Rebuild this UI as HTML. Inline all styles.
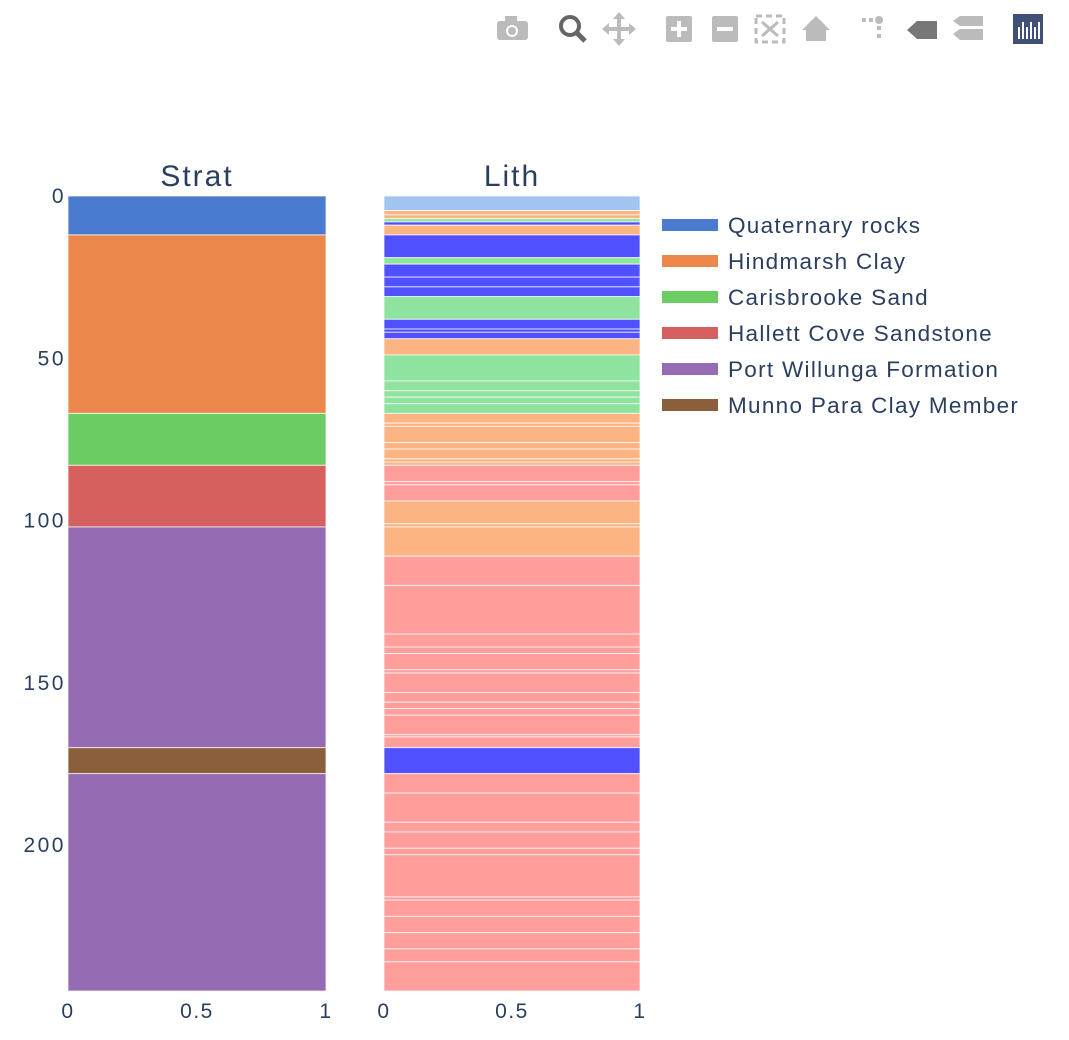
<!DOCTYPE html>
<html><head><meta charset="utf-8">
<style>
body{margin:0;background:#fff;font-family:"Liberation Sans",sans-serif;}
svg text{font-family:"Liberation Sans",sans-serif;fill:#2a3f5f;}
</style></head>
<body>
<svg id="chart" width="1069" height="1035">
  <g id="modebar" fill="#bbb">
    <g><rect x="497" y="21" width="31" height="19" rx="3"/><rect x="505" y="16" width="12" height="6"/><circle cx="512" cy="31" r="6" fill="#fff"/><circle cx="512" cy="31" r="4"/></g>
    <g><circle cx="570" cy="26" r="9" fill="none" stroke="#666" stroke-width="4"/><line x1="576" y1="32" x2="585" y2="41" stroke="#666" stroke-width="5"/></g>
    <g><rect x="604" y="27" width="30" height="4"/><rect x="617" y="14" width="4" height="30"/><polygon points="619,12 613,19 625,19"/><polygon points="619,46 613,39 625,39"/><polygon points="602,29 609,23 609,35"/><polygon points="636,29 629,23 629,35"/></g>
    <g><rect x="666" y="16" width="26" height="26" rx="2"/><rect x="671" y="27" width="16" height="4" fill="#fff"/><rect x="677" y="21" width="4" height="16" fill="#fff"/></g>
    <g><rect x="712" y="16" width="26" height="26" rx="2"/><rect x="717" y="27" width="16" height="4" fill="#fff"/></g>
    <g><rect x="756" y="16" width="28" height="26" fill="none" stroke="#bbb" stroke-width="3" stroke-dasharray="6 4"/><path d="M762 22 L778 36 M778 22 L762 36" stroke="#bbb" stroke-width="3"/></g>
    <g><polygon points="816,16 802,30 806,30 806,41 826,41 826,30 830,30"/></g>
    <g><rect x="862" y="18" width="4" height="4"/><rect x="869" y="18" width="4" height="4"/><circle cx="879" cy="20" r="4"/><rect x="877" y="26" width="4" height="4"/><rect x="877" y="34" width="4" height="4"/></g>
    <g><polygon points="907,30 917,21 937,21 937,39 917,39" fill="#777"/></g>
    <g><polygon points="953,21 960,16 983,16 983,26 960,26"/><polygon points="953,34 960,29 983,29 983,40 960,40"/></g>
    <g><rect x="1013" y="14" width="30" height="30" fill="#3f4f75"/><g fill="#fff"><rect x="1018" y="27" width="2" height="12"/><rect x="1022" y="22" width="2" height="17"/><rect x="1026" y="27" width="2" height="12"/><rect x="1030" y="22" width="2" height="17"/><rect x="1034" y="27" width="2" height="12"/><rect x="1038" y="22" width="2" height="17"/></g></g>
  </g>
  <g id="plots"></g>
  <g id="legend"></g>
</svg>
<script>
const stratNames = ["Quaternary rocks","Hindmarsh Clay","Carisbrooke Sand","Hallett Cove Sandstone","Port Willunga Formation","Munno Para Clay Member"];
const stratColors = ["#4a7bd0","#ec884b","#6bcc63","#d66060","#956bb3","#8c5f3c"];
const stratTops = [0,12,67,83,102,170,178];
const stratBases = [12,67,83,102,170,178,245];
const stratUnit = [0,1,2,3,4,5,4];
const lithTops =  [0,4.5,5.8,7,8,9,12,19,21,25,28,31,38,41,42,44,49,57,60,62,64,67,70,71,76,78,81,82,83,88,89,94,101,102,111,120,135,139,141,146,147,153,156,158,160,166,166.7,170,178,184,193,196,201,203,216,217,222,227,232,236];
const lithBases = [4.5,5.8,7,8,9,12,19,21,25,28,31,38,41,42,44,49,57,60,62,64,67,70,71,76,78,81,82,83,88,89,94,101,102,111,120,135,139,141,146,147,153,156,158,160,166,166.7,170,178,184,193,196,201,203,216,217,222,227,232,236,245];
const lithType = ["c","o","o","g","b","o","b","g","b","b","b","g","b","b","b","o","g","g","g","g","g","o","o","o","o","o","o","o","r","r","r","o","o","o","r","r","r","r","r","r","r","r","r","r","r","r","r","b","r","r","r","r","r","r","r","r","r","r","r","r"];
const lithColors = {c:"#a1c5f0",o:"#fcb482",g:"#8ee39e",b:"#5050ff",r:"#ff9e9b"};
const yTicks = [0,50,100,150,200];
const xTicks = [0,0.5,1];
const Y0=196, Y1=992, DMAX=245.3;
const y = d => Y0 + d/DMAX*(Y1-Y0);
const NS="http://www.w3.org/2000/svg";
const plots=document.getElementById('plots');
function mk(tag,attrs,parent,text){const e=document.createElementNS(NS,tag);for(const k in attrs)e.setAttribute(k,attrs[k]);if(text!==undefined)e.textContent=text;parent.appendChild(e);return e;}
const panels=[{x0:68,x1:326,title:"Strat",name:"strat"},{x0:384,x1:640,title:"Lith",name:"lith"}];
panels.forEach((p,pi)=>{
  const g=mk('g',{},plots);
  
  
  const xs=v=>p.x0+v*(p.x1-p.x0);
  const n = pi===0?stratTops.length:lithTops.length;
  for(let i=0;i<n;i++){
    const t=pi===0?stratTops[i]:lithTops[i], b=pi===0?stratBases[i]:lithBases[i];
    const col=pi===0?stratColors[stratUnit[i]]:lithColors[lithType[i]];
    const r=mk('rect',{x:xs(0),y:y(t),width:xs(1)-xs(0),height:y(b)-y(t),fill:col,stroke:"#fff","stroke-opacity":0.7,"stroke-width":1},g);
    
    
  }
  const tt=mk('text',{x:(p.x0+p.x1)/2,y:186,"text-anchor":"middle","font-size":30,"letter-spacing":"2"},g,p.title);
  
  
  xTicks.forEach(v=>{
    const t=mk('text',{x:xs(v),y:1018,"text-anchor":"middle","font-size":21,"letter-spacing":"1.5"},g,String(v));
    
    
  });
});
yTicks.forEach(v=>{
  const t=mk('text',{x:66,y:y(v)+7,"text-anchor":"end","font-size":21,"letter-spacing":"2.5"},plots,String(v));
  
  
});
const leg=document.getElementById('legend');
stratNames.forEach((nm,i)=>{
  const g=mk('g',{},leg);
  
  
  const cy=225+i*36;
  mk('rect',{x:662,y:cy-6,width:56,height:12,fill:stratColors[i]},g);
  mk('text',{x:728,y:cy+8,"font-size":22.5,"letter-spacing":"1.3"},g,nm);
});
</script>
</body></html>
